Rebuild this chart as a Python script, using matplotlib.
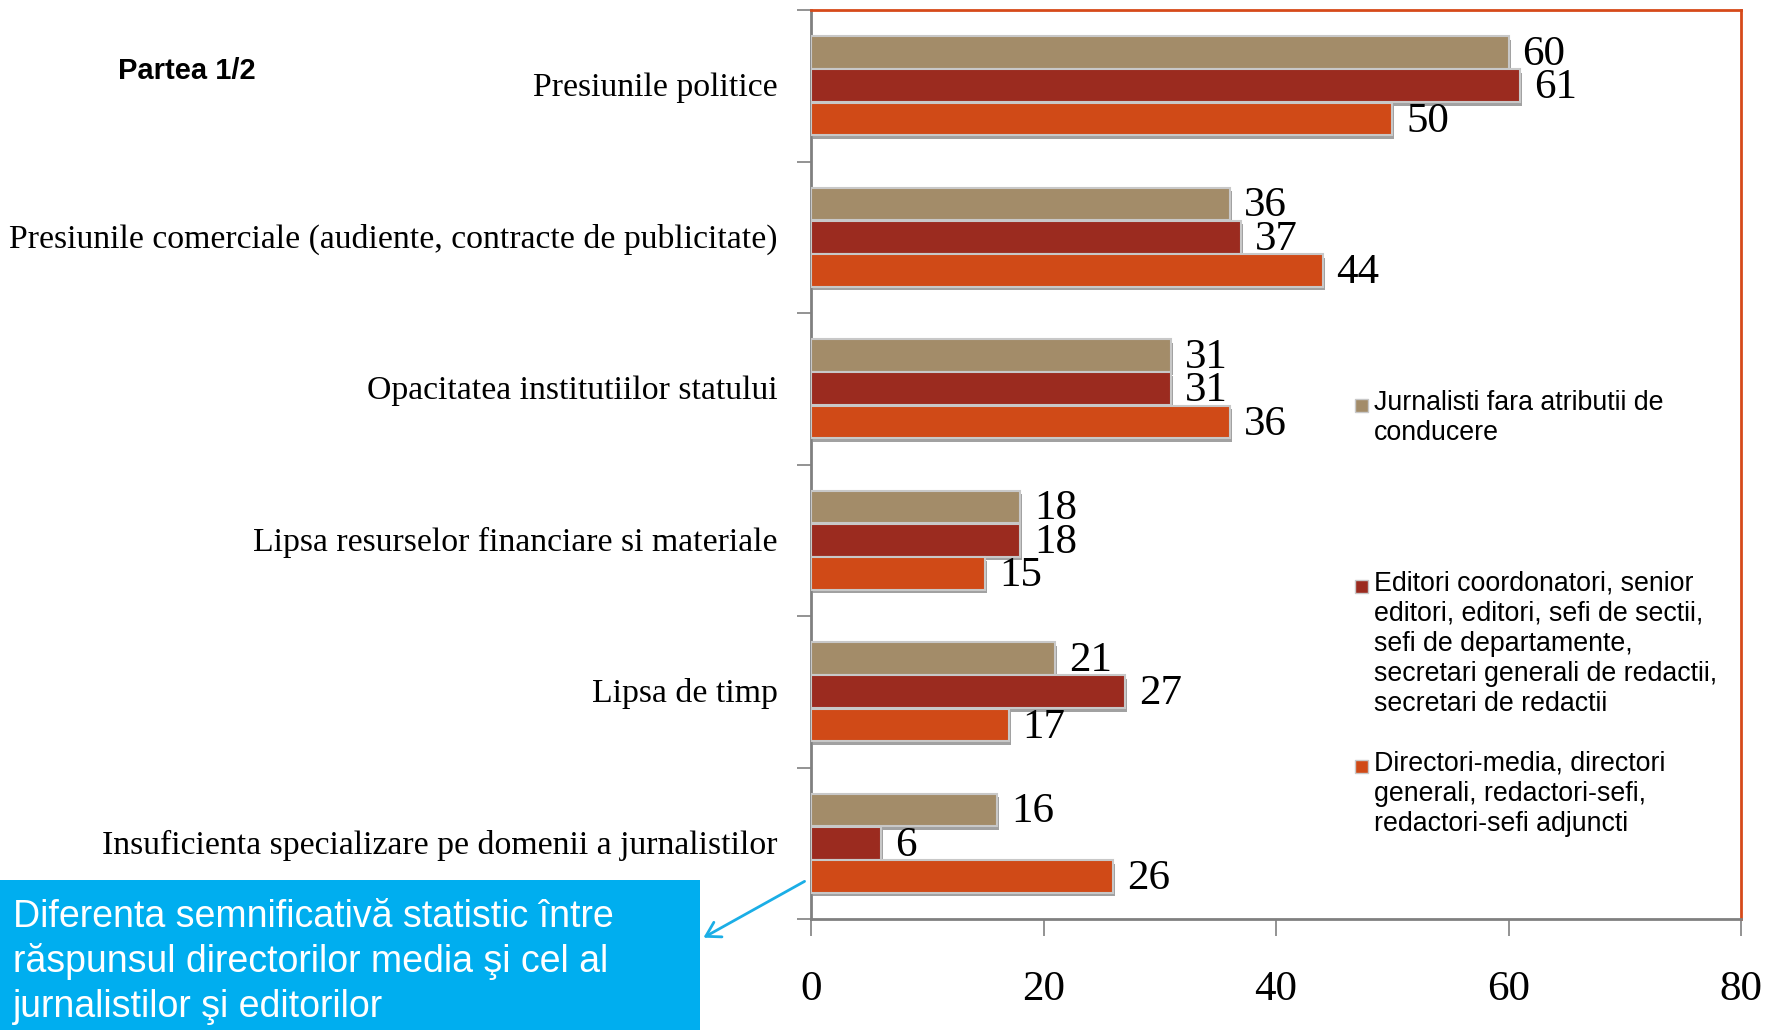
import matplotlib.pyplot as plt
import matplotlib.patheffects as pe
from matplotlib.patches import Rectangle, FancyArrowPatch
import numpy as np

categories = [
    'Presiunile politice',
    'Presiunile comerciale (audiente, contracte de publicitate)',
    'Opacitatea institutiilor statului',
    'Lipsa resurselor financiare si materiale',
    'Lipsa de timp',
    'Insuficienta specializare pe domenii a jurnalistilor',
]
jurnalisti = [60, 36, 31, 18, 21, 16]
editori = [61, 37, 31, 18, 27, 6]
directori = [50, 44, 36, 15, 17, 26]

series_names = [
    'Jurnalisti fara atributii de\nconducere',
    'Editori coordonatori, senior\neditori, editori, sefi de sectii,\nsefi de departamente,\nsecretari generali de redactii,\nsecretari de redactii',
    'Directori-media, directori\ngenerali, redactori-sefi,\nredactori-sefi adjuncti',
]
colors = ['#A38C69', '#9B2B1F', '#D04A17']
xticks = [0, 20, 40, 60, 80]

note_lines = ['Diferenta semnificativă statistic între',
              'răspunsul directorilor media şi cel al',
              'jurnalistilor şi editorilor']

W, H = 1768, 1030
fig = plt.figure(figsize=(W / 100, H / 100), dpi=100)
ax = fig.add_axes([811 / W, 1 - 919 / H, (1741 - 811) / W, (919 - 10) / H])

serif = 'Liberation Serif'
sans = 'Liberation Sans'

pos = np.arange(len(categories))
offsets = [0.28, 0.50, 0.72]
shadow = [pe.SimplePatchShadow(offset=(1.5, -2.5), shadow_rgbFace='#555555', alpha=0.55), pe.Normal()]

for vals, off, col in zip([jurnalisti, editori, directori], offsets, colors):
    bars = ax.barh(pos + off, vals, height=0.215, color=col, edgecolor='#c8c8c8',
                   linewidth=1.5, zorder=3)
    for b in bars:
        b.set_path_effects(shadow)
    for y, v in zip(pos + off, vals):
        ax.text(v + 1.2, y + 0.015, str(v), va='center', ha='left', fontsize=31,
                family=serif, color='black', zorder=4)

ax.set_xlim(0, 80)
ax.set_ylim(len(categories), 0)

ax.set_xticks(xticks)
ax.set_xticklabels([str(t) for t in xticks], family=serif, fontsize=31)
ax.tick_params(axis='x', direction='out', length=12, width=1.2, color='#808080', pad=25)

ax.set_yticks(pos + 0.49)
ax.set_yticklabels(categories, family=serif, fontsize=24.3)
ax.tick_params(axis='y', which='major', length=0, pad=24)
ax.set_yticks(np.arange(len(categories) + 1), minor=True)
ax.tick_params(axis='y', which='minor', direction='out', length=10, width=1.2, color='#808080')

for side in ['top', 'right']:
    ax.spines[side].set_color('#D64A1A')
    ax.spines[side].set_linewidth(2)
for side in ['left', 'bottom']:
    ax.spines[side].set_color('#808080')
    ax.spines[side].set_linewidth(2)

# legend drawn by hand so the entries can sit far apart
leg_y = [405, 586, 766]
for name, col, ly in zip(series_names, colors, leg_y):
    fig.patches.append(Rectangle((1355 / W, 1 - (ly + 7) / H), 13 / W, 13 / H,
                                 transform=fig.transFigure, facecolor=col,
                                 edgecolor='#c8c8c8', linewidth=1))
    fig.text(1374 / W, 1 - (ly - 15) / H, name, family=sans, fontsize=19.3,
             va='top', ha='left', linespacing=1.2)

fig.text(118 / W, 1 - 71 / H, 'Partea 1/2', family=sans, fontsize=21,
         fontweight='bold', va='center', ha='left')

# blue note box with arrow pointing at the last group
fig.patches.append(Rectangle((0, 0), 700 / W, 150 / H, transform=fig.transFigure,
                             facecolor='#00AEEF', edgecolor='none'))
for i, line in enumerate(note_lines):
    fig.text(13 / W, 1 - (917 + 45 * i) / H, line, family=sans, fontsize=27,
             color='white', va='center', ha='left')
fig.add_artist(FancyArrowPatch((807 / W, 1 - 880 / H), (701 / W, 1 - 939 / H),
                               transform=fig.transFigure, arrowstyle='->,head_length=10,head_width=6',
                               color='#1BAEE6', linewidth=2))

fig.savefig('out.png', dpi=100)
